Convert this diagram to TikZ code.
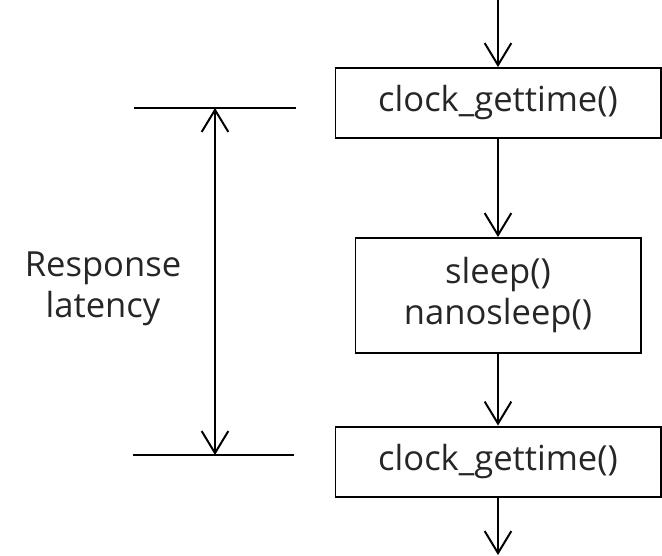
\documentclass[tikz,border=0pt]{standalone}
\usepackage{fontspec}
\setmainfont{Open Sans}
\usetikzlibrary{arrows.meta,positioning}

\begin{document}
\begin{tikzpicture}[
  x=0.3mm, y=-0.3mm,
  font=\fontsize{29.5}{35}\selectfont,
  every node/.style={text=black!85},
  box/.style={draw, line width=1.7pt, align=center, minimum width=97.5mm, minimum height=21mm},
  arrow/.style={-{Straight Barb[length=6.6mm, width=8mm]}, line width=1.7pt},
  dblarrow/.style={{Straight Barb[length=6.6mm, width=8mm]}-{Straight Barb[length=6.6mm, width=8mm]}, line width=1.7pt},
  mark line/.style={line width=1.7pt}
]
\useasboundingbox (0,0) rectangle (662,555);

\node[box] (start) at (498,103) {clock\_gettime()};
\node[box, minimum width=85.5mm, minimum height=34.5mm] (sleep) at (498,295.5) {sleep()\\nanosleep()};
\node[box] (stop) at (498,461.5) {clock\_gettime()};
\node[align=center] (latency) at (103,289) {Response\\latency};

\coordinate (in) at (start.north |- 0,0);
\coordinate (out) at (stop.south |- 0,555);
\coordinate (topl) at (134,108);
\coordinate (topr) at (296,108);
\coordinate (botl) at (133,455);
\coordinate (botr) at (294,455);
\coordinate (ta) at (215,108);
\coordinate (ba) at (215,455);

\draw[arrow] (in) -- (start);
\draw[arrow] (start) -- (sleep);
\draw[arrow] (sleep) -- (stop);
\draw[arrow] (stop) -- (out);

\draw[mark line] (topl) -- (topr);
\draw[mark line] (botl) -- (botr);
\draw[dblarrow] (ta) -- (ba);
\end{tikzpicture}
\end{document}
